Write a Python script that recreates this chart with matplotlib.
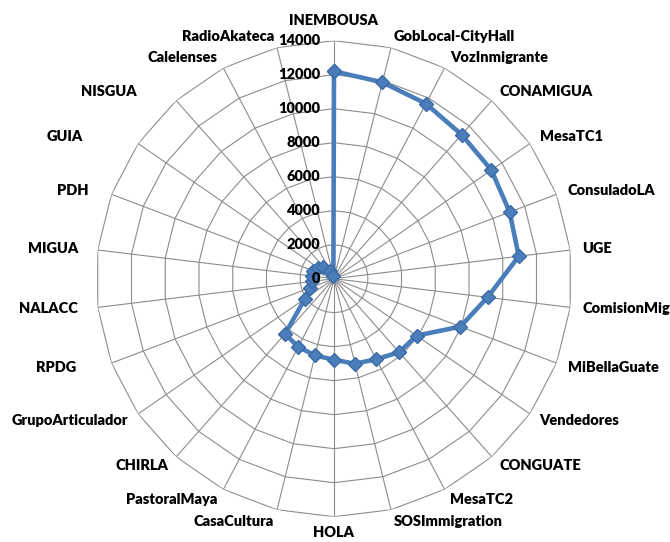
import numpy as np
import matplotlib
matplotlib.use("Agg")
import matplotlib.pyplot as plt
from matplotlib.transforms import offset_copy

# data
categories = ["INEMBOUSA", "GobLocal-CityHall", "VozInmigrante", "CONAMIGUA", "MesaTC1",
              "ConsuladoLA", "UGE", "ComisionMig", "MiBellaGuate", "Vendedores", "CONGUATE",
              "MesaTC2", "SOSImmigration", "HOLA", "CasaCultura", "PastoralMaya", "CHIRLA",
              "GrupoArticulador", "RPDG", "NALACC", "MIGUA", "PDH", "GUIA", "NISGUA",
              "Calelenses", "RadioAkateca"]
values = [12200, 11900, 11630, 11320, 11250, 11050, 10950, 9100, 7950, 5900, 5780,
          5350, 5150, 4770, 4650, 4530, 4340, 2080, 1540, 1300, 1300, 1300, 1150, 950,
          500, 150]
rings = [0, 2000, 4000, 6000, 8000, 10000, 12000, 14000]

# extra horizontal nudge (px) for some left-side labels, as in the original
label_nudge = {"NISGUA": -32, "GUIA": -45, "PDH": -12, "MIGUA": -8, "NALACC": -8, "RPDG": -24}

line_color = "#4a7ebb"
grid_color = "#8c8c8c"
font = ["Lato", "DejaVu Sans"]

n = len(categories)
angles = np.arange(n) * 2 * np.pi / n

fig = plt.figure(figsize=(6.7, 5.42), dpi=100)
ax = fig.add_axes([0.1433, 0.0467, 0.7104, 0.8782], projection="polar")
ax.set_theta_zero_location("N")
ax.set_theta_direction(-1)
ax.set_ylim(0, rings[-1])
ax.grid(False)
ax.spines["polar"].set_visible(False)
ax.set_xticks([])
ax.set_yticks([])
ax.patch.set_alpha(0)

# polygon grid like excel
closed = np.append(angles, angles[0])
for r in rings[1:]:
    ax.plot(closed, [r] * len(closed), color=grid_color, lw=0.8, zorder=1)
for a in angles:
    ax.plot([a, a], [0, rings[-1]], color=grid_color, lw=0.8, zorder=1)

vals = values + values[:1]
ax.plot(closed, vals, color=line_color, lw=3.3, marker="D", markersize=7,
        markerfacecolor=line_color, markeredgecolor="#3c6aa6", zorder=3)

# radial tick labels left of the vertical axis
tr = offset_copy(ax.transData, fig=fig, x=-14, y=0, units="dots")
for r in rings:
    ax.text(0, r, str(r), transform=tr, ha="right", va="center",
            fontsize=10.5, fontweight="heavy", family=font, zorder=4)

# category labels
for a, name in zip(angles, categories):
    deg = np.degrees(a)
    if deg < 5:
        ha, rr = "center", 15200
    elif abs(deg - 180) < 5:
        ha, rr = "center", 14950
    elif deg < 180:
        ha, rr = "left", 14700
    else:
        ha, rr = "right", 14700
    t = offset_copy(ax.transData, fig=fig, x=label_nudge.get(name, 0), y=0, units="dots")
    ax.text(a, rr, name, transform=t, ha=ha, va="center", fontsize=10.5,
            fontweight="heavy", family=font)

fig.savefig("out.png", dpi=100)
